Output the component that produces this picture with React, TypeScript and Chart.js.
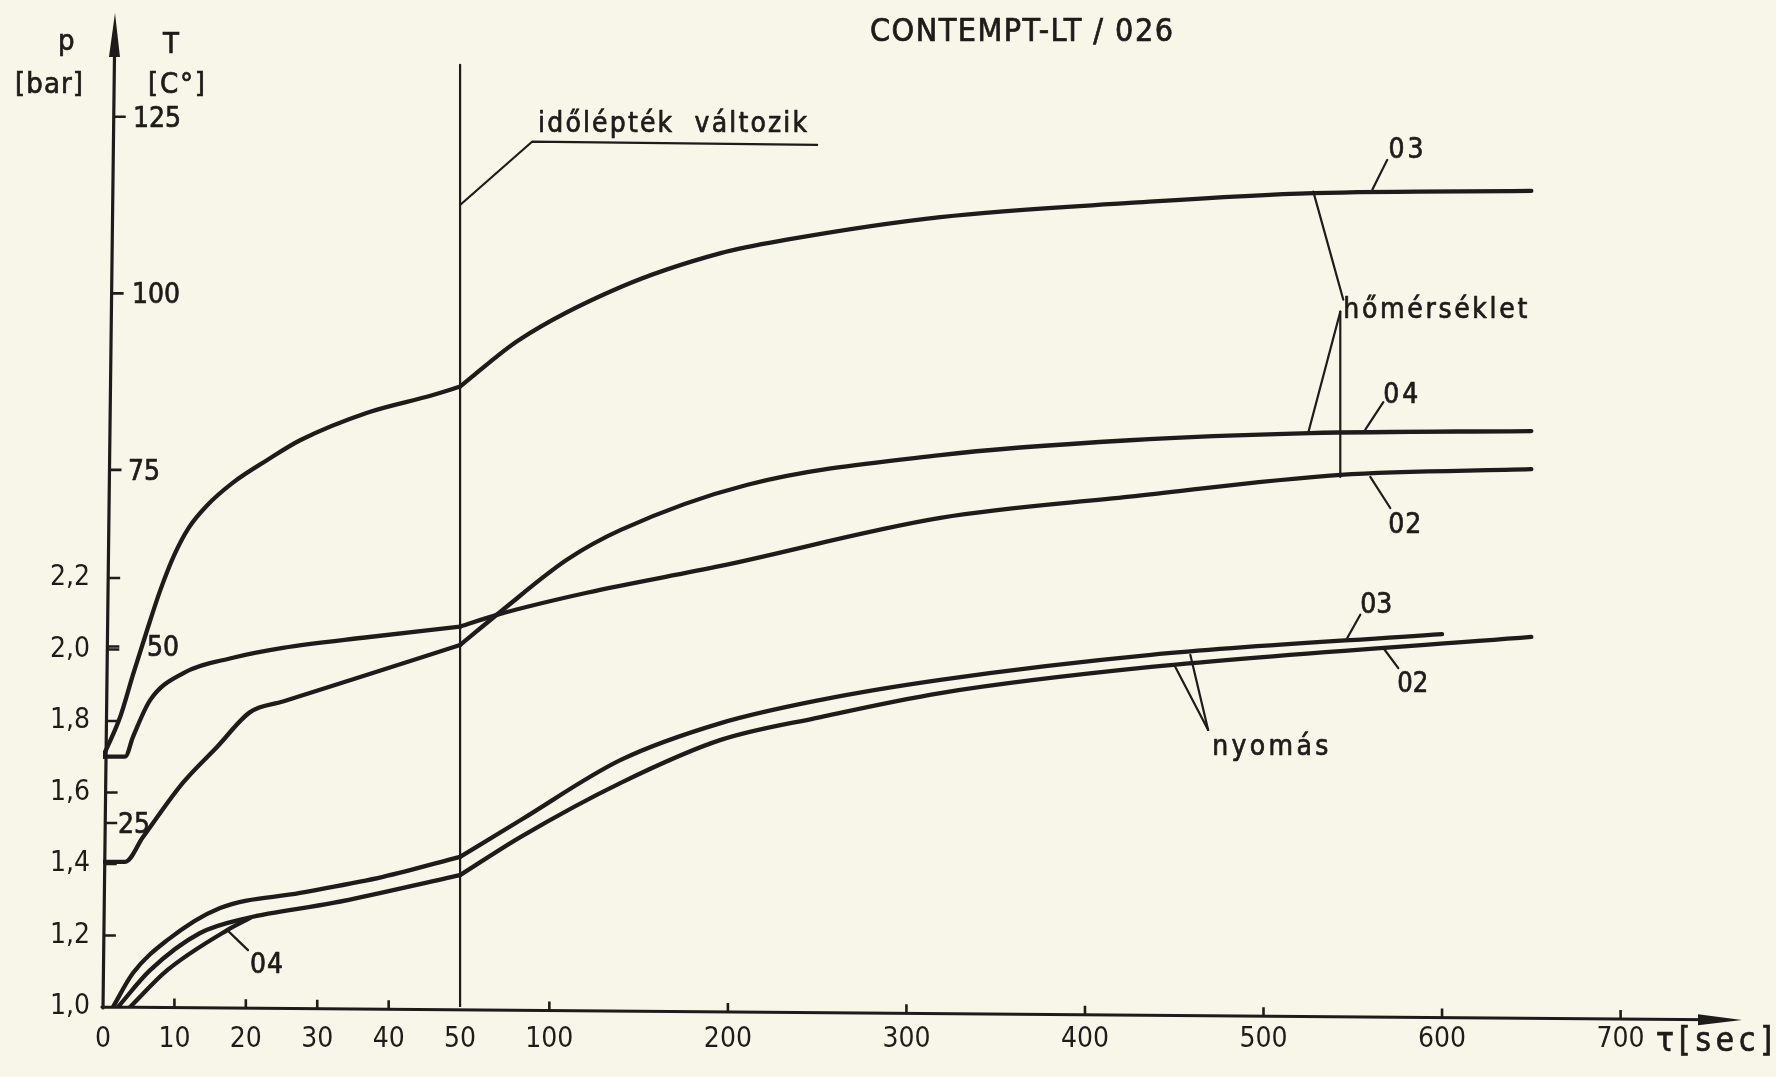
import { useEffect, useRef } from "react";
import { Chart, registerables } from "chart.js";

Chart.register(...registerables);

const FONT = '"Liberation Sans Narrow", "DejaVu Sans Condensed", "Arial Narrow", sans-serif';
const INK = "#1d1c1a";
const PAPER = "#f8f6e9";

// time axis: 0–50 s drawn at full scale, beyond 50 s compressed 4:1 ("időlépték változik")
const BREAK_T = 50;
const COMPRESS = 4;
const toV = (t: number) => (t <= BREAK_T ? t : BREAK_T + (t - BREAK_T) / COMPRESS);
const fromV = (v: number) => (v <= BREAK_T ? v : BREAK_T + (v - BREAK_T) * COMPRESS);

// tick labels
const xTickSeconds = [0, 10, 20, 30, 40, 50, 100, 200, 300, 400, 500, 600, 700];
const pTicks = [1.0, 1.2, 1.4, 1.6, 1.8, 2.0, 2.2];
const tTicks = [25, 50, 75, 100, 125];

// temperature (hőmérséklet), °C
const temp03Time = [0, 2.4, 4.2, 6.2, 8, 10, 12, 14.5, 18.2, 23, 27.6, 37, 46.2, 50, 83, 140, 196, 233, 319, 425, 528, 650];
const temp03 = [34.4, 40.0, 46.0, 52.4, 57.9, 63.0, 66.8, 69.9, 73.2, 76.4, 79.2, 83.1, 85.6, 86.8, 93.4, 100.9, 105.7, 107.6, 110.8, 112.8, 114.2, 114.5];

const temp04Time = [0, 3.1, 5.6, 11.2, 16, 20.6, 25.2, 37, 50, 74, 110, 140, 211, 319, 425, 526, 650];
const temp04 = [19.5, 19.5, 23.0, 30.7, 35.8, 40.7, 42.2, 46.0, 50.2, 55.2, 62.3, 66.5, 72.9, 77.1, 79.2, 80.2, 80.5];

const temp02Time = [0, 3.1, 4.2, 6.6, 11.2, 18.2, 25.2, 37, 50, 71, 121, 196, 319, 425, 543, 650];
const temp02 = [34.4, 34.4, 37.2, 42.4, 46.2, 48.4, 49.8, 51.3, 52.8, 54.5, 57.6, 61.4, 68.2, 71.2, 74.3, 75.1];

// pressure (nyomás), bar
const pres03Time = [1.4, 4.2, 9, 16.4, 27.6, 39.2, 50, 84, 140, 196, 252, 319, 437, 600];
const pres03 = [1.0, 1.095, 1.187, 1.277, 1.319, 1.364, 1.42, 1.523, 1.691, 1.794, 1.859, 1.915, 1.985, 2.043];

const pres02Time = [2.1, 6.6, 13.6, 20.2, 32.2, 50, 84, 140, 196, 252, 319, 437, 650];
const pres02 = [1.0, 1.103, 1.207, 1.249, 1.291, 1.369, 1.476, 1.627, 1.747, 1.811, 1.878, 1.951, 2.035];

const pres04Time = [3.8, 9, 17.4, 20.6];
const pres04 = [1.0, 1.103, 1.215, 1.249];

// "időlépték változik" marker line at the time-scale change
const breakLineTime = [50, 50];
const breakLineP = [1.0, 3.635];

type Axis = "p" | "T";
const labels: { text: string; t: number; v: number; axis: Axis; w?: number }[] = [
  { text: "időlépték  változik", t: 93.7, v: 3.448, axis: "p", w: 269 },
  { text: "03", t: 570, v: 119.2, axis: "T", w: 35 },
  { text: "hőmérséklet", t: 544.7, v: 96.5, axis: "T", w: 184 },
  { text: "04", t: 567.1, v: 84.5, axis: "T", w: 35 },
  { text: "02", t: 569.9, v: 66.1, axis: "T", w: 33 },
  { text: "03", t: 554.2, v: 2.102, axis: "p", w: 32 },
  { text: "02", t: 574.9, v: 1.881, axis: "p", w: 31 },
  { text: "nyomás", t: 471.3, v: 1.705, axis: "p", w: 116 },
  { text: "04", t: 20.6, v: 1.095, axis: "p", w: 33 },
];
const leaders: { pts: [number, number][]; axis: Axis }[] = [
  { pts: [[50, 3.243], [90.3, 3.42], [250, 3.411]], axis: "p" },
  { pts: [[561, 114.7], [569.3, 118.9]], axis: "T" },
  { pts: [[527.9, 114.4], [544.7, 99.1]], axis: "T" },
  { pts: [[543, 97.4], [525.2, 80.4]], axis: "T" },
  { pts: [[543, 97.4], [543, 74.0]], axis: "T" },
  { pts: [[557, 80.7], [567.1, 84.6]], axis: "T" },
  { pts: [[559.8, 74.0], [571, 69.6]], axis: "T" },
  { pts: [[546.9, 2.032], [554.2, 2.097]], axis: "p" },
  { pts: [[567.1, 2.004], [575.5, 1.948]], axis: "p" },
  { pts: [[469, 1.775], [450.6, 1.951]], axis: "p" },
  { pts: [[469, 1.775], [459, 1.985]], axis: "p" },
  { pts: [[17.4, 1.215], [20.3, 1.159]], axis: "p" },
];

// curves have a corner where the time scale changes, so each is drawn as two pieces
const piece = (ts: number[], vs: number[], right: boolean) =>
  ts
    .map((t, i) => ({ t, v: vs[i] }))
    .filter((d) => (right ? d.t >= BREAK_T : d.t <= BREAK_T))
    .map((d) => ({ x: toV(d.t), y: d.v }));

function drawText(ctx: CanvasRenderingContext2D, text: string, x: number, y: number, size: number, w?: number) {
  ctx.save();
  ctx.font = `${size}px ${FONT}`;
  ctx.textAlign = "left";
  ctx.textBaseline = "alphabetic";
  ctx.lineWidth = 0.7;
  ctx.strokeStyle = INK;
  const n = Array.from(text).length;
  const put = (px: number, py: number) => {
    ctx.fillText(text, px, py);
    ctx.strokeText(text, px, py);
  };
  if (w && n > 1) {
    const m = ctx.measureText(text).width;
    const ls = (w - m) / (n - 1);
    if (ls >= -1) {
      (ctx as any).letterSpacing = `${ls}px`;
      put(x, y);
    } else {
      ctx.translate(x, y);
      ctx.scale(w / m, 1);
      put(0, 0);
    }
  } else {
    put(x, y);
  }
  ctx.restore();
}

const paperPlugin = {
  id: "paper",
  beforeDraw(chart: any) {
    const { ctx, width, height } = chart;
    ctx.save();
    ctx.fillStyle = PAPER;
    ctx.fillRect(0, 0, width, height);
    ctx.restore();
  },
};

// the hand-drawn axes lean slightly
const Y_AXIS_LEAN = 12; // px to the right at the top
const X_AXIS_DROP = 13; // px downward at the arrow tip

const drawingPlugin = {
  id: "drawing",
  afterDatasetsDraw(chart: any) {
    const { ctx, chartArea: a, scales } = chart;
    const sx = scales.x;
    const sp = scales.y;
    const sT = scales.yT;
    const X = (t: number) => sx.getPixelForValue(toV(t));
    const Y = (axis: Axis, v: number) => (axis === "T" ? sT : sp).getPixelForValue(v);
    const axisX = (y: number) => a.left + ((a.bottom - y) / (a.bottom - a.top)) * Y_AXIS_LEAN;
    const axisY = (x: number) => a.bottom + ((x - a.left) / (a.right - a.left)) * X_AXIS_DROP;
    ctx.save();
    ctx.strokeStyle = INK;
    ctx.fillStyle = INK;
    ctx.lineCap = "round";

    // axes with arrows
    ctx.lineWidth = 3.2;
    ctx.beginPath();
    ctx.moveTo(a.left, a.bottom + 1);
    ctx.lineTo(axisX(a.top + 30), a.top + 30);
    ctx.moveTo(a.left - 1, a.bottom);
    ctx.lineTo(a.right - 30, axisY(a.right - 30));
    ctx.stroke();
    const tipX = axisX(a.top);
    const baseX = axisX(a.top + 44);
    ctx.beginPath();
    ctx.moveTo(tipX, a.top);
    ctx.lineTo(baseX - 5.5, a.top + 44);
    ctx.lineTo(baseX + 5.5, a.top + 44);
    ctx.closePath();
    ctx.fill();
    const tipY = axisY(a.right);
    const baseY = axisY(a.right - 44);
    ctx.beginPath();
    ctx.moveTo(a.right, tipY);
    ctx.lineTo(a.right - 44, baseY - 5.5);
    ctx.lineTo(a.right - 44, baseY + 5.5);
    ctx.closePath();
    ctx.fill();

    // tick marks
    ctx.lineWidth = 2.6;
    ctx.lineCap = "butt";
    ctx.beginPath();
    for (const t of xTickSeconds) {
      if (t === 0 || t === BREAK_T) continue;
      const x = X(t);
      const y0 = axisY(x);
      ctx.moveTo(x, y0);
      ctx.lineTo(x, y0 - 9);
    }
    for (const p of pTicks) {
      if (p === 1.0) continue;
      const y = Y("p", p);
      ctx.moveTo(axisX(y), y);
      ctx.lineTo(axisX(y) + 12, y);
    }
    for (const T of tTicks) {
      const y = Y("T", T);
      ctx.moveTo(axisX(y), y);
      ctx.lineTo(axisX(y) + 12, y);
    }
    ctx.stroke();

    // T tick labels (second scale on the same axis line)
    const tOffset: Record<number, number> = { 25: 15, 50: 44, 75: 25, 100: 29, 125: 30 };
    for (const T of tTicks) {
      drawText(ctx, String(T), a.left + tOffset[T], Y("T", T) + 10, 28);
    }

    // axis titles
    drawText(ctx, "p", 58, 50, 29);
    drawText(ctx, "[bar]", 15, 93, 29, 68);
    drawText(ctx, "T", 163, 53, 29);
    drawText(ctx, "[C°]", 148, 93, 29, 57);
    drawText(ctx, "τ[sec]", 1656, 1051, 33, 116);
    drawText(ctx, "CONTEMPT-LT / 026", 870, 41, 32, 303);

    // leader lines
    ctx.lineWidth = 2.2;
    ctx.lineCap = "round";
    ctx.lineJoin = "round";
    for (const l of leaders) {
      ctx.beginPath();
      l.pts.forEach(([t, v], i) => {
        const x = X(t);
        const y = Y(l.axis, v);
        if (i === 0) ctx.moveTo(x, y);
        else ctx.lineTo(x, y);
      });
      ctx.stroke();
    }
    for (const lb of labels) {
      drawText(ctx, lb.text, X(lb.t), Y(lb.axis, lb.v), 28, lb.w);
    }
    ctx.restore();
  },
};

export default function App() {
  const ref = useRef<HTMLCanvasElement | null>(null);
  useEffect(() => {
    document.body.style.margin = "0";
    document.body.style.background = PAPER;
    document.body.style.overflow = "hidden";
    const lineDs = (label: string, data: { x: number; y: number }[], axis: string, width = 4.3) => ({
      label,
      data,
      yAxisID: axis,
      borderColor: INK,
      borderWidth: width,
      pointRadius: 0,
      fill: false,
      cubicInterpolationMode: "monotone" as const,
      borderCapStyle: "round" as const,
      borderJoinStyle: "round" as const,
    });
    const curve = (label: string, ts: number[], vs: number[], axis: string) => [
      lineDs(label, piece(ts, vs, false), axis),
      lineDs(label, piece(ts, vs, true), axis),
    ];
    const chart = new Chart(ref.current as HTMLCanvasElement, {
      type: "line",
      data: {
        datasets: [
          ...curve("T 03", temp03Time, temp03, "yT"),
          ...curve("T 04", temp04Time, temp04, "yT"),
          ...curve("T 02", temp02Time, temp02, "yT"),
          ...curve("p 03", pres03Time, pres03, "y"),
          ...curve("p 02", pres02Time, pres02, "y"),
          lineDs("p 04", piece(pres04Time, pres04, false), "y"),
          {
            ...lineDs("időlépték változik", breakLineTime.map((t, i) => ({ x: toV(t), y: breakLineP[i] })), "y", 2.2),
            cubicInterpolationMode: "default" as const,
            tension: 0,
          },
        ],
      },
      options: {
        animation: false,
        responsive: false,
        devicePixelRatio: 1,
        layout: { padding: { top: 13, right: 34, left: 0, bottom: 0 } },
        plugins: { legend: { display: false }, tooltip: { enabled: false }, title: { display: false } },
        scales: {
          x: {
            type: "linear",
            min: 0,
            max: 229.5,
            afterFit: (s: any) => {
              s.height = 70;
              s.paddingLeft = 0;
              s.paddingRight = 0;
            },
            afterBuildTicks: (s: any) => {
              s.ticks = xTickSeconds.map((t) => ({ value: toV(t) }));
            },
            ticks: {
              autoSkip: false,
              maxRotation: 0,
              padding: 16,
              color: INK,
              font: { family: FONT, size: 28 },
              callback: (v: any) => String(Math.round(fromV(Number(v)))),
            },
            grid: { display: false, drawTicks: false },
            border: { display: false },
          },
          y: {
            type: "linear",
            position: "left",
            min: 1.0,
            max: 3.78,
            afterFit: (s: any) => {
              s.width = 103;
              s.paddingTop = 0;
              s.paddingBottom = 0;
            },
            afterBuildTicks: (s: any) => {
              s.ticks = pTicks.map((v) => ({ value: v }));
            },
            ticks: {
              padding: 13,
              color: INK,
              font: { family: FONT, size: 28 },
              callback: (v: any) => Number(v).toFixed(1).replace(".", ","),
            },
            grid: { display: false, drawTicks: false },
            border: { display: false },
          },
          yT: {
            type: "linear",
            axis: "y",
            position: "left",
            display: false,
            min: -1.06,
            max: 139.7,
          },
        },
      },
      plugins: [paperPlugin, drawingPlugin],
    } as any);
    return () => chart.destroy();
  }, []);
  return (
    <div style={{ width: 1776, height: 1077, background: PAPER }}>
      <canvas ref={ref} width={1776} height={1077} style={{ display: "block" }} />
    </div>
  );
}
